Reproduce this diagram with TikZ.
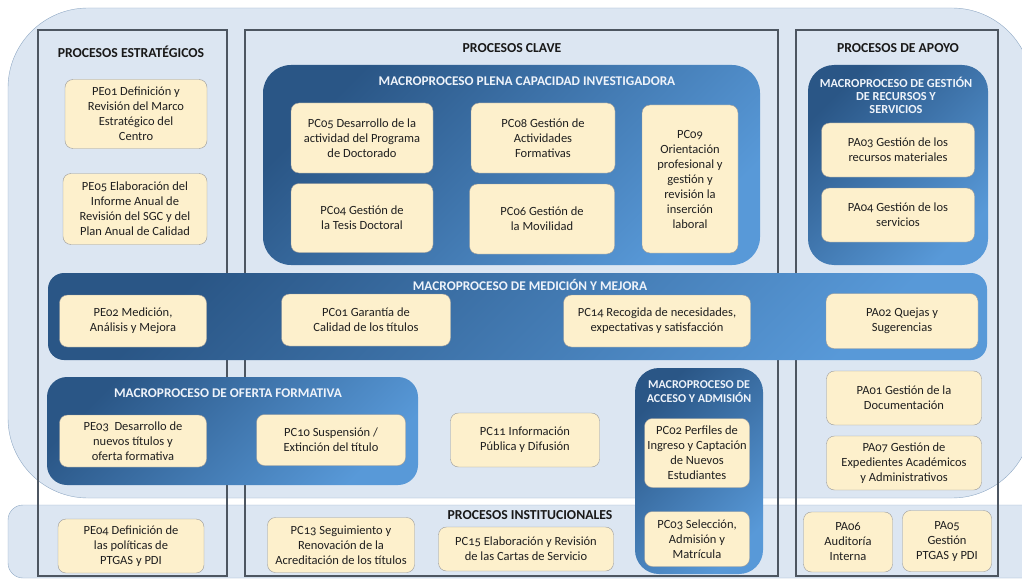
\documentclass[tikz,border=0pt]{standalone}
\usepackage{fontspec}
\setmainfont{Carlito}[Numbers=OldStyle]
\usepackage{tikz}

\definecolor{fondo}{HTML}{DCE6F2}
\definecolor{bordefondo}{HTML}{8FA8C4}
\definecolor{columna}{HTML}{4D5661}
\definecolor{macrooscuro}{HTML}{2A5686}
\definecolor{macroclaro}{HTML}{5899D8}
\definecolor{caja}{HTML}{FDF0CC}
\definecolor{bordecaja}{HTML}{9A9A9A}
\definecolor{textomacro}{HTML}{EEF3FA}

\tikzset{
  caja/.style 2 args={draw=bordecaja, fill=caja, rounded corners=8pt, align=center,
    minimum width=#1pt, minimum height=#2pt, inner sep=1pt, text=black!88,
    font=\fontsize{12.5}{15}\selectfont},
  macro/.style={rounded corners=#1, top color=macrooscuro, bottom color=macroclaro, shading angle=45},
  titulo/.style={font=\fontsize{13.7}{16}\selectfont\bfseries, text=black!90},
  macrotitulo/.style={font=\fontsize{13.3}{15}\selectfont\bfseries, text=textomacro, align=center},
}

\begin{document}
\begin{tikzpicture}[x=1pt,y=-1pt]
  \useasboundingbox (0,0) rectangle (1022,583);

  \draw[bordefondo, fill=fondo, rounded corners=80pt] (8,8) rectangle (1032,498);
  \draw[bordefondo, fill=fondo, rounded corners=15pt] (8,505) rectangle (1045,578);

  \draw[columna, line width=1.3pt] (38,30) rectangle (227,576);
  \draw[columna, line width=1.3pt] (245,30) rectangle (778,576);
  \draw[columna, line width=1.3pt] (796,30) rectangle (998,576);

  \node[titulo] (tpe) at (131,52) {PROCESOS ESTRATÉGICOS};
  \node[titulo] (tpc) at (512,48) {PROCESOS CLAVE};
  \node[titulo] (tpa) at (898,48) {PROCESOS DE APOYO};
  \node[titulo] (tpi) at (530,515) {PROCESOS INSTITUCIONALES};

  \shade[macro=28pt] (263,65) rectangle (760,265);
  \shade[macro=26pt] (808,65) rectangle (988,265);
  \shade[macro=16pt] (48,273) rectangle (987,360);
  \shade[macro=20pt] (47,377) rectangle (418,485);
  \shade[macro=24pt] (635,368) rectangle (763,574);

  \node[macrotitulo] (mpc) at (527,81) {MACROPROCESO PLENA CAPACIDAD INVESTIGADORA};
  \node[macrotitulo, font=\fontsize{12.3}{13}\selectfont\bfseries] (mrs) at (896,95) {MACROPROCESO DE GESTIÓN\\ DE RECURSOS Y\\ SERVICIOS};
  \node[macrotitulo] (mmm) at (530,285) {MACROPROCESO DE MEDICIÓN Y MEJORA};
  \node[macrotitulo] (mof) at (228,393) {MACROPROCESO DE OFERTA FORMATIVA};
  \node[macrotitulo, font=\fontsize{12}{14}\selectfont\bfseries] (mac) at (699,392) {MACROPROCESO DE\\ ACCESO Y ADMISIÓN};

  \node[caja={142}{69}] (pe01) at (136,114) {PE01 Definición y\\ Revisión del Marco\\ Estratégico del\\ Centro};
  \node[caja={144}{71}] (pe05) at (135,209) {PE05 Elaboración del\\ Informe Anual de\\ Revisión del SGC y del\\ Plan Anual de Calidad};
  \node[caja={147}{52}] (pe02) at (133,321) {PE02 Medición,\\ Análisis y Mejora};
  \node[caja={147}{52}] (pe03) at (133,441) {PE03 \ Desarrollo de\\ nuevos títulos y\\ oferta formativa};
  \node[caja={146}{54}] (pe04) at (131,546) {PE04 Definición de\\ las políticas de\\ PTGAS y PDI};

  \node[caja={142}{70}] (pc05) at (362,138) {PC05 Desarrollo de la\\ actividad del Programa\\ de Doctorado};
  \node[caja={144}{70}] (pc08) at (543,138) {PC08 Gestión de\\ Actividades\\ Formativas};
  \node[caja={96}{148}] (pc09) at (690,179) {PC09\\ Orientación\\ profesional y\\ gestión y\\ revisión la\\ inserción\\ laboral};
  \node[caja={142}{69}] (pc04) at (362,218) {PC04 Gestión de\\ la Tesis Doctoral};
  \node[caja={145}{70}] (pc06) at (542,219) {PC06 Gestión de\\ la Movilidad};
  \node[caja={169}{52}] (pc01) at (366,320) {PC01 Garantía de\\ Calidad de los títulos};
  \node[caja={187}{52}] (pc14) at (657,321) {PC14 Recogida de necesidades,\\ expectativas y satisfacción};
  \node[caja={149}{51}] (pc10) at (331,440) {PC10 Suspensión /\\ Extinción del título};
  \node[caja={149}{54}] (pc11) at (525,440) {PC11 Información\\ Pública y Difusión};
  \node[caja={105}{69}] (pc02) at (697,453) {PC02 Perfiles de\\ Ingreso y Captación\\ de Nuevos\\ Estudiantes};
  \node[caja={105}{55}] (pc03) at (697,539) {PC03 Selección,\\ Admisión y\\ Matrícula};
  \node[caja={147}{55}] (pc13) at (341,545) {PC13 Seguimiento y\\ Renovación de la\\ Acreditación de los títulos};
  \node[caja={175}{44}] (pc15) at (526,549) {PC15 Elaboración y Revisión\\ de las Cartas de Servicio};

  \node[caja={153}{54}] (pa03) at (898,150) {PA03 Gestión de los\\ recursos materiales};
  \node[caja={153}{54}] (pa04) at (898,215) {PA04 Gestión de los\\ servicios};
  \node[caja={152}{55}] (pa02) at (902,321) {PA02 Quejas y\\ Sugerencias};
  \node[caja={155}{54}] (pa01) at (904,398) {PA01 Gestión de la\\ Documentación};
  \node[caja={155}{54}] (pa07) at (904,463) {PA07 Gestión de\\ Expedientes Académicos\\ y Administrativos};
  \node[caja={89}{60}] (pa06) at (848,542) {PA06\\ Auditoría\\ Interna};
  \node[caja={89}{61}] (pa05) at (947,541) {PA05\\ Gestión\\ PTGAS y PDI};
\end{tikzpicture}
\end{document}
